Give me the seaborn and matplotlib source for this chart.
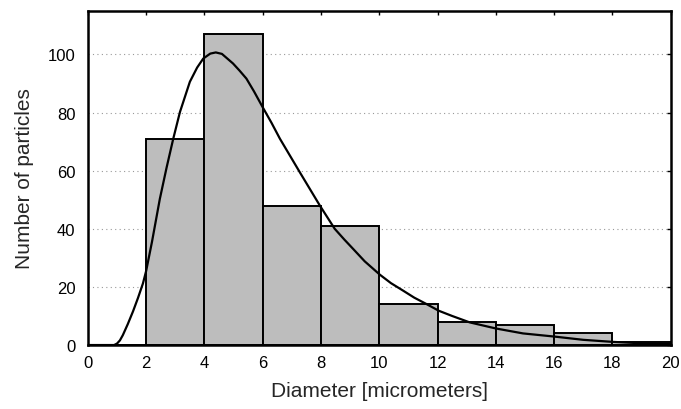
import numpy as np
import pandas as pd
import matplotlib
matplotlib.use("Agg")
import matplotlib.pyplot as plt
import seaborn as sns

# histogram: bin edges and counts
bin_edges = [0, 2, 4, 6, 8, 10, 12, 14, 16, 18, 20]
counts = [0, 71, 107, 48, 41, 14, 8, 7, 4, 1]

# fitted curve, points
curve_x = [0.0, 0.9, 1.0, 1.1, 1.2, 1.37, 1.55, 1.72, 1.89, 2.0, 2.2, 2.47,
           2.7, 2.93, 3.16, 3.5, 3.75, 3.96, 4.2, 4.39, 4.6, 4.98, 5.2,
           5.44, 5.7, 5.99, 6.3, 6.59, 7.27, 7.96, 8.47, 8.8, 9.1, 9.5,
           10.02, 10.4, 10.82, 11.2, 11.62, 12.04, 12.5, 13.1, 14.0, 14.93,
           16.02, 16.99, 17.99, 19.0, 20.0]
curve_y = [0.0, 0.0, 0.5, 1.6, 3.4, 7.2, 11.6, 16.2, 21.2, 25.5, 35.5, 50.3,
           61.0, 71.0, 80.2, 90.6, 95.5, 98.6, 100.3, 100.7, 100.2, 96.9,
           94.5, 91.7, 87.3, 82.0, 76.5, 71.0, 59.5, 48.0, 40.0, 36.3, 33.1,
           28.8, 24.2, 21.3, 18.7, 16.3, 14.1, 11.8, 10.0, 7.8, 5.7, 4.0,
           2.9, 1.8, 1.1, 0.6, 0.3]

y_ticks = [0, 20, 40, 60, 80, 100]
x_ticks = [0, 2, 4, 6, 8, 10, 12, 14, 16, 18, 20]

centers = [(a + b) / 2 for a, b in zip(bin_edges[:-1], bin_edges[1:])]
hist_df = pd.DataFrame({"diameter": centers, "n": counts})
curve_df = pd.DataFrame({"x": curve_x, "y": curve_y})

sns.set_style("white")
plt.rcParams["font.family"] = ["Liberation Sans", "DejaVu Sans"]

fig = plt.figure(figsize=(6.81, 4.10), dpi=100)
ax = fig.add_axes([0.129, 0.156, 0.856, 0.815])

sns.histplot(
    data=hist_df,
    x="diameter",
    weights="n",
    bins=bin_edges,
    color="#bdbdbd",
    alpha=1,
    edgecolor="black",
    linewidth=1.4,
    ax=ax,
    zorder=2,
)
sns.lineplot(data=curve_df, x="x", y="y", color="black", linewidth=1.6,
             ax=ax, zorder=3)

ax.set_xlim(0, 20)
ax.set_ylim(0, 115)
ax.set_xticks(x_ticks)
ax.set_yticks(y_ticks)
ax.yaxis.grid(True, linestyle=(0, (1, 3)), color="#999999", linewidth=0.8)
ax.set_axisbelow(True)

for side in ["left", "right", "top", "bottom"]:
    ax.spines[side].set_visible(True)
    ax.spines[side].set_linewidth(1.8)
    ax.spines[side].set_color("black")

ax.tick_params(direction="in", length=3, width=1, top=True, right=True,
               labelsize=12, colors="black")
ax.tick_params(axis="y", pad=9)
ax.tick_params(axis="x", pad=7)
ax.set_xlabel("Diameter [micrometers]", fontsize=15, labelpad=8)
ax.set_ylabel("Number of particles", fontsize=15, labelpad=10)

fig.savefig("out.png", dpi=100, facecolor="white")
